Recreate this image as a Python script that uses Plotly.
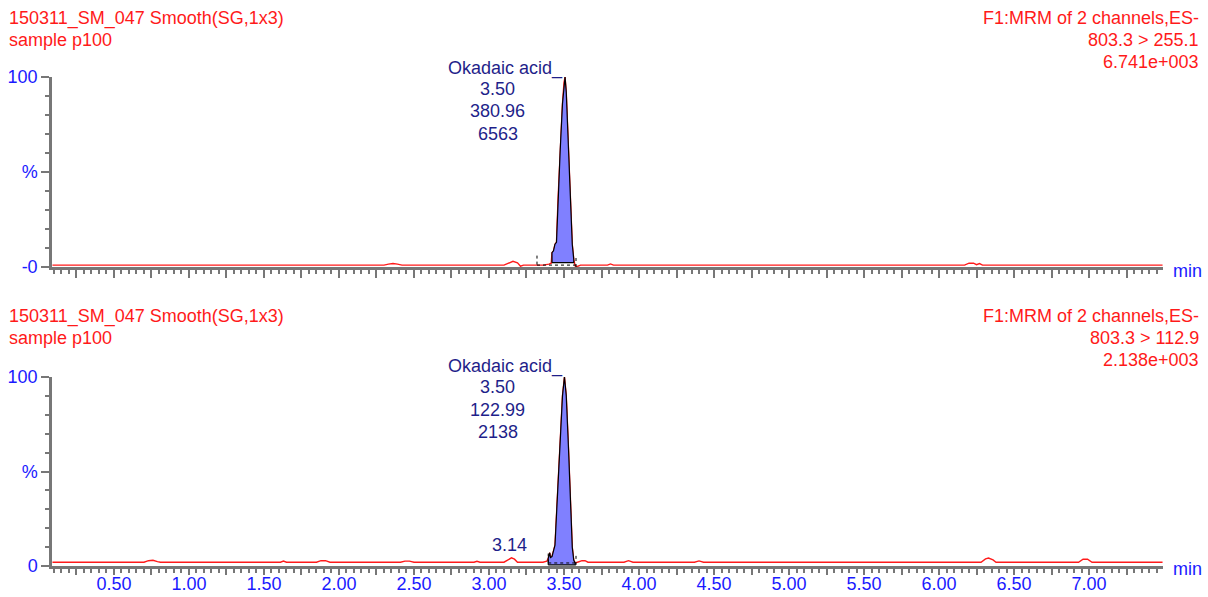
import plotly.graph_objects as go

# ---------------- data ----------------
# Channel 1: 803.3 > 255.1  (time [min], relative intensity [%])
ch1_time = [0.09, 2.30, 2.33, 2.36, 2.39, 2.42, 3.10, 3.13, 3.16, 3.19, 3.21, 3.23,
            3.36, 3.40, 3.415, 3.42, 3.43, 3.44, 3.45, 3.46, 3.475, 3.49, 3.50, 3.507,
            3.515, 3.53, 3.545, 3.555, 3.565, 3.575, 3.59, 3.61, 3.79, 3.81, 3.83,
            6.17, 6.20, 6.23, 6.25, 6.27, 6.29, 7.49]
ch1_int = [1.0, 1.0, 1.5, 1.8, 1.5, 1.0, 1.0, 2.2, 3.0, 2.2, 0.4, 1.0,
           1.0, 1.5, 2.0, 7.5, 8.5, 12.0, 13.0, 35.0, 62.0, 86.0, 97.0, 100.0,
           92.0, 65.0, 35.0, 12.0, 4.0, 0.5, 0.3, 1.0, 1.0, 1.6, 1.0,
           1.0, 2.0, 2.0, 1.2, 1.8, 1.0, 1.0]

# Channel 2: 803.3 > 112.9
ch2_time = [0.09, 0.70, 0.73, 0.76, 0.79, 0.81, 1.61, 1.63, 1.65, 1.85, 1.88, 1.91, 1.94,
            2.41, 2.44, 2.47, 2.50, 2.90, 2.92, 2.94, 3.10, 3.13, 3.15, 3.17, 3.19,
            3.36, 3.385, 3.395, 3.405, 3.41, 3.42, 3.43, 3.44, 3.455, 3.47, 3.49, 3.503,
            3.515, 3.53, 3.545, 3.555, 3.565, 3.575, 3.59, 3.62, 3.64, 3.66,
            3.90, 3.93, 3.96, 4.37, 4.40, 4.43, 6.28, 6.31, 6.33, 6.36, 6.38,
            6.93, 6.96, 6.99, 7.02, 7.49]
ch2_int = [2.0, 2.0, 2.8, 3.0, 2.3, 2.0, 2.0, 2.6, 2.0, 2.0, 2.8, 2.8, 2.0,
           2.0, 2.6, 2.6, 2.0, 2.0, 2.5, 2.0, 2.0, 3.5, 4.3, 3.6, 2.0,
           2.0, 2.5, 4.0, 7.0, 4.5, 5.0, 8.0, 11.0, 35.0, 62.0, 90.0, 100.0,
           90.0, 62.0, 30.0, 10.0, 3.0, 1.5, 2.0, 2.8, 2.8, 2.0,
           2.0, 2.8, 2.0, 2.0, 2.7, 2.0, 2.0, 3.8, 4.2, 3.2, 2.0,
           2.0, 3.6, 3.6, 2.0, 2.0]

# integration (start, end, baseline at start, baseline at end)
ch1_integ = [3.42, 3.565, 2.3, 2.3]
ch2_integ = [3.395, 3.575, 0.6, 0.6]
# detection markers (start, end, level)
ch1_marks = [3.32, 3.58, 1.0]
ch2_marks = [3.395, 3.58, 1.6]

headers_left = ["150311_SM_047 Smooth(SG,1x3)", "sample p100"]
ch1_right = ["F1:MRM of 2 channels,ES-", "803.3 > 255.1", "6.741e+003"]
ch2_right = ["F1:MRM of 2 channels,ES-", "803.3 > 112.9", "2.138e+003"]

compound = "Okadaic acid_"
ch1_peak = ["3.50", "380.96", "6563"]
ch2_peak = ["3.50", "122.99", "2138"]
ch2_minor_peak_rt = "3.14"

x_labelvals = [round(0.5 * i, 2) for i in range(1, 15)]
x_labels = ["%.2f" % v for v in x_labelvals]
x_major = [round(0.25 * i, 2) for i in range(1, 30)]
x_minor = [round(0.05 * i, 2) for i in range(2, 150) if i % 5 != 0]

# ---------------- layout helpers ----------------
W, H = 1208, 597
def py(p):
    return 1 - p / H
def px(p):
    return p / W

RED = "#ff1a1a"
BLUE = "#1a1aff"
NAVY = "#1f1f8a"
GREY = "#777777"
FONT = "Liberation Sans, Arial, sans-serif"
FS = 18
XRANGE = [0.087, 7.493]
XDOM = [px(52), px(1163)]
TW = 2

fig = go.Figure()

def add_channel(times, ints, integ, marks, xa, ya):
    fig.add_trace(go.Scatter(x=times, y=ints, mode="lines",
                             line=dict(color=RED, width=1.4),
                             xaxis=xa, yaxis=ya, showlegend=False, hoverinfo="skip"))
    s, e, bs, be = integ
    px_ = [s] + [t for t in times if s <= t <= e] + [e, s]
    py_ = [bs] + [v for t, v in zip(times, ints) if s <= t <= e] + [be, bs]
    fig.add_trace(go.Scatter(x=px_, y=py_, mode="lines", fill="toself",
                             fillcolor="#8080ff", line=dict(color="black", width=1.2),
                             xaxis=xa, yaxis=ya, showlegend=False, hoverinfo="skip"))
    ms, me, ml = marks
    fig.add_trace(go.Scatter(x=[ms, ms, None, ms, me, None, me, me],
                             y=[ml + 5, ml, None, ml, ml, None, ml - 1, ml + 4],
                             mode="lines", line=dict(color="black", width=1, dash="dot"),
                             xaxis=xa, yaxis=ya, showlegend=False, hoverinfo="skip"))

add_channel(ch1_time, ch1_int, ch1_integ, ch1_marks, "x", "y")
add_channel(ch2_time, ch2_int, ch2_integ, ch2_marks, "x2", "y2")
# invisible trace so the overlay tick axis of the lower panel is drawn
fig.add_trace(go.Scatter(x=[ch2_time[0]], y=[ch2_int[0]], mode="lines", opacity=0,
                         xaxis="x3", yaxis="y2", showlegend=False, hoverinfo="skip"))

minor_x = dict(tickmode="array", tickvals=x_minor, ticks="outside",
               ticklen=4, tickcolor=GREY, tickwidth=TW, showgrid=False)

# top x axis: ticks only
xaxis_top = dict(range=XRANGE, domain=XDOM, anchor="y", showline=True,
                 linecolor=GREY, linewidth=2.5, ticks="outside", tickcolor=GREY,
                 tickwidth=TW, ticklen=8, tickmode="array", tickvals=x_major,
                 showticklabels=False, showgrid=False, zeroline=False,
                 automargin=False, minor=minor_x)
# bottom x axis: line + labels (no major ticks so labels sit close to the axis)
xaxis_bot = dict(range=XRANGE, domain=XDOM, anchor="y2", showline=True,
                 linecolor=GREY, linewidth=2.5, ticks="", tickmode="array",
                 tickvals=x_labelvals, ticktext=x_labels, showgrid=False,
                 zeroline=False, automargin=False,
                 tickfont=dict(family=FONT, size=FS, color=BLUE), minor=minor_x)
# overlay axis for the long ticks of the lower panel
xaxis_bot_ticks = dict(range=XRANGE, domain=XDOM, anchor="y2", overlaying="x2",
                       side="bottom", showline=False, ticks="outside", tickcolor=GREY,
                       tickwidth=TW, ticklen=8, tickmode="array", tickvals=x_major,
                       showticklabels=False, showgrid=False, zeroline=False,
                       automargin=False)

ycommon = dict(range=[0, 100], showline=True, linecolor=GREY, linewidth=2.5,
               ticks="outside", tickcolor=GREY, tickwidth=TW, ticklen=8,
               tickmode="array", tickvals=[0, 50, 100], showgrid=False, zeroline=False,
               automargin=False,
               tickfont=dict(family=FONT, size=FS, color=BLUE),
               minor=dict(tickmode="array", tickvals=[10, 20, 30, 40, 60, 70, 80, 90],
                          ticks="outside", ticklen=4, tickcolor=GREY, tickwidth=TW,
                          showgrid=False))

fig.update_layout(
    width=W, height=H, autosize=False,
    margin=dict(l=0, r=0, t=0, b=0, pad=0, autoexpand=False),
    paper_bgcolor="white", plot_bgcolor="white",
    xaxis=xaxis_top,
    yaxis=dict(ycommon, anchor="x", domain=[py(267), py(77)], ticktext=["-0", "%", "100"]),
    xaxis2=xaxis_bot,
    xaxis3=xaxis_bot_ticks,
    yaxis2=dict(ycommon, anchor="x2", domain=[py(566), py(377)], ticktext=["0", "%", "100"]),
)

ann = []
def text(x, y, s, color, anchor="left", xref="paper"):
    ann.append(dict(x=x, y=py(y), xref=xref, yref="paper", text=s, showarrow=False,
                    xanchor=anchor, yanchor="middle",
                    font=dict(family=FONT, size=FS, color=color)))

for off, right in [(0, ch1_right), (298, ch2_right)]:
    for i, s in enumerate(headers_left):
        text(px(7), 18 + off + 22 * i, s, RED)
    for i, s in enumerate(right):
        text(px(1201), 18 + off + 22 * i, s, RED, "right")

for off, vals in [(0, ch1_peak), (298, ch2_peak)]:
    text(3.11, 68 + off, compound, NAVY, "center", "x")
    for i, s in enumerate(vals):
        text(3.06, 89 + off + 22.5 * i, s, NAVY, "center", "x")

text(float(ch2_minor_peak_rt), 545, ch2_minor_peak_rt, NAVY, "center", "x")
text(px(1171), 271, "min", BLUE)
text(px(1171), 569, "min", BLUE)

fig.update_layout(annotations=ann)
fig.write_html("out.html")
